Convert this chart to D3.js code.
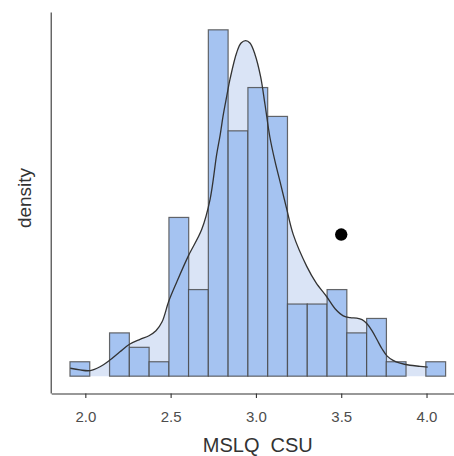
<!DOCTYPE html>
<html>
<head>
<meta charset="utf-8">
<script src="https://cdn.jsdelivr.net/npm/d3@7"></script>
<style>
  html, body { margin: 0; padding: 0; background: #fff; }
  svg { display: block; }
  text { white-space: pre; }
</style>
</head>
<body>
<svg id="chart" width="454" height="456"></svg>
<script>
// ---- data ----
const binMids = [1.968, 2.084, 2.200, 2.316, 2.432, 2.548, 2.663, 2.779, 2.895, 3.011,
                 3.127, 3.243, 3.359, 3.475, 3.591, 3.707, 3.822, 3.938, 4.054];
const binWidth = 0.1159;
const counts = [1, 0, 3, 2, 1, 11, 6, 24, 17, 20, 18, 5, 5, 6, 3, 4, 1, 0, 1];

const densityX = [1.912, 1.969, 2.028, 2.086, 2.142, 2.203, 2.259, 2.321, 2.373, 2.414,
                  2.450, 2.489, 2.536, 2.604, 2.682, 2.731, 2.770, 2.790, 2.809, 2.829,
                  2.848, 2.887, 2.913, 2.940, 2.965, 2.994, 3.028, 3.053, 3.082, 3.112,
                  3.141, 3.181, 3.219, 3.298, 3.352, 3.415, 3.464, 3.512, 3.552, 3.591,
                  3.622, 3.651, 3.681, 3.710, 3.739, 3.768, 3.804, 3.845, 3.903, 3.962, 4.007];
const densityY = [0.037, 0.029, 0.026, 0.044, 0.074, 0.114, 0.149, 0.172, 0.189, 0.212,
                  0.254, 0.350, 0.440, 0.562, 0.685, 0.825, 1.036, 1.125, 1.223, 1.308,
                  1.387, 1.511, 1.556, 1.567, 1.556, 1.504, 1.397, 1.270, 1.116, 1.003,
                  0.910, 0.779, 0.661, 0.513, 0.437, 0.371, 0.315, 0.282, 0.273, 0.271,
                  0.264, 0.245, 0.212, 0.170, 0.128, 0.095, 0.074, 0.061, 0.051, 0.046, 0.042];

const pointX = [3.5];
const pointY = [0.6615];

const xTicks = [2.0, 2.5, 3.0, 3.5, 4.0];
const xTitle = "MSLQ  CSU";
const yTitle = "density";

// ---- layout ----
const svg = d3.select("#chart");
const n = d3.sum(counts);
const dens = counts.map(c => c / (n * binWidth));
const histLo = binMids[0] - binWidth / 2;
const histHi = binMids[binMids.length - 1] + binWidth / 2;
const xPad = (histHi - histLo) * 0.05;
const maxD = d3.max(dens);
const yPad = maxD * 0.05;

const panel = { left: 51.2, right: 464.4, top: 12.5, bottom: 393.5 };

const x = d3.scaleLinear().domain([histLo - xPad, histHi + xPad]).range([panel.left, panel.right]);
const y = d3.scaleLinear().domain([-yPad, maxD + yPad]).range([panel.bottom, panel.top]);

const g = svg.append("g");
const curve = d3.curveCatmullRom.alpha(0.5);

// density area (behind bars)
const pts = densityX.map((d, i) => [d, densityY[i]]);
g.append("path")
  .datum(pts)
  .attr("fill", "#dae4f6")
  .attr("stroke", "none")
  .attr("d", d3.area().x(d => x(d[0])).y0(y(0)).y1(d => y(d[1])).curve(curve));

// bars
g.selectAll("rect.bar")
  .data(binMids.map((m, i) => ({ m, d: dens[i] })))
  .join("rect")
  .attr("class", "bar")
  .attr("x", d => x(d.m - binWidth / 2))
  .attr("width", d => x(d.m + binWidth / 2) - x(d.m - binWidth / 2))
  .attr("y", d => y(d.d))
  .attr("height", d => y(0) - y(d.d))
  .attr("fill", "#a5c3f1")
  .attr("stroke", "#454545")
  .attr("stroke-opacity", 0.8)
  .attr("stroke-width", 1.2);

// density line
g.append("path")
  .datum(pts)
  .attr("fill", "none")
  .attr("stroke", "#333")
  .attr("stroke-width", 1.3)
  .attr("d", d3.line().x(d => x(d[0])).y(d => y(d[1])).curve(curve));

// point
g.selectAll("circle.pt")
  .data(pointX.map((v, i) => [v, pointY[i]]))
  .join("circle")
  .attr("class", "pt")
  .attr("cx", d => x(d[0]))
  .attr("cy", d => y(d[1]))
  .attr("r", 6.2)
  .attr("fill", "#000");

// axes
const xAxis = svg.append("g")
  .attr("transform", `translate(0,${panel.bottom})`)
  .call(d3.axisBottom(x).tickValues(xTicks).tickFormat(d3.format(".1f")).tickSize(4.5).tickSizeOuter(0));
xAxis.select(".domain").attr("stroke", "#333").attr("stroke-width", 1.1);
xAxis.selectAll(".tick line").attr("stroke", "#333").attr("stroke-width", 1.1);
xAxis.selectAll(".tick text")
  .attr("fill", "#4d4d4d")
  .attr("font-family", "Liberation Sans, Arial, sans-serif")
  .attr("font-size", 15)
  .attr("dy", null)
  .attr("y", 28);

svg.append("line")
  .attr("x1", panel.left).attr("x2", panel.left)
  .attr("y1", panel.top).attr("y2", panel.bottom)
  .attr("stroke", "#333").attr("stroke-width", 1.1);

svg.append("text")
  .attr("x", (panel.left + panel.right) / 2)
  .attr("y", 452)
  .attr("text-anchor", "middle")
  .attr("fill", "#333")
  .attr("font-family", "Liberation Sans, Arial, sans-serif")
  .attr("font-size", 20)
  .text(xTitle);

svg.append("text")
  .attr("transform", `translate(31,198) rotate(-90)`)
  .attr("text-anchor", "middle")
  .attr("fill", "#333")
  .attr("font-family", "Liberation Sans, Arial, sans-serif")
  .attr("font-size", 19)
  .text(yTitle);
</script>
</body>
</html>
